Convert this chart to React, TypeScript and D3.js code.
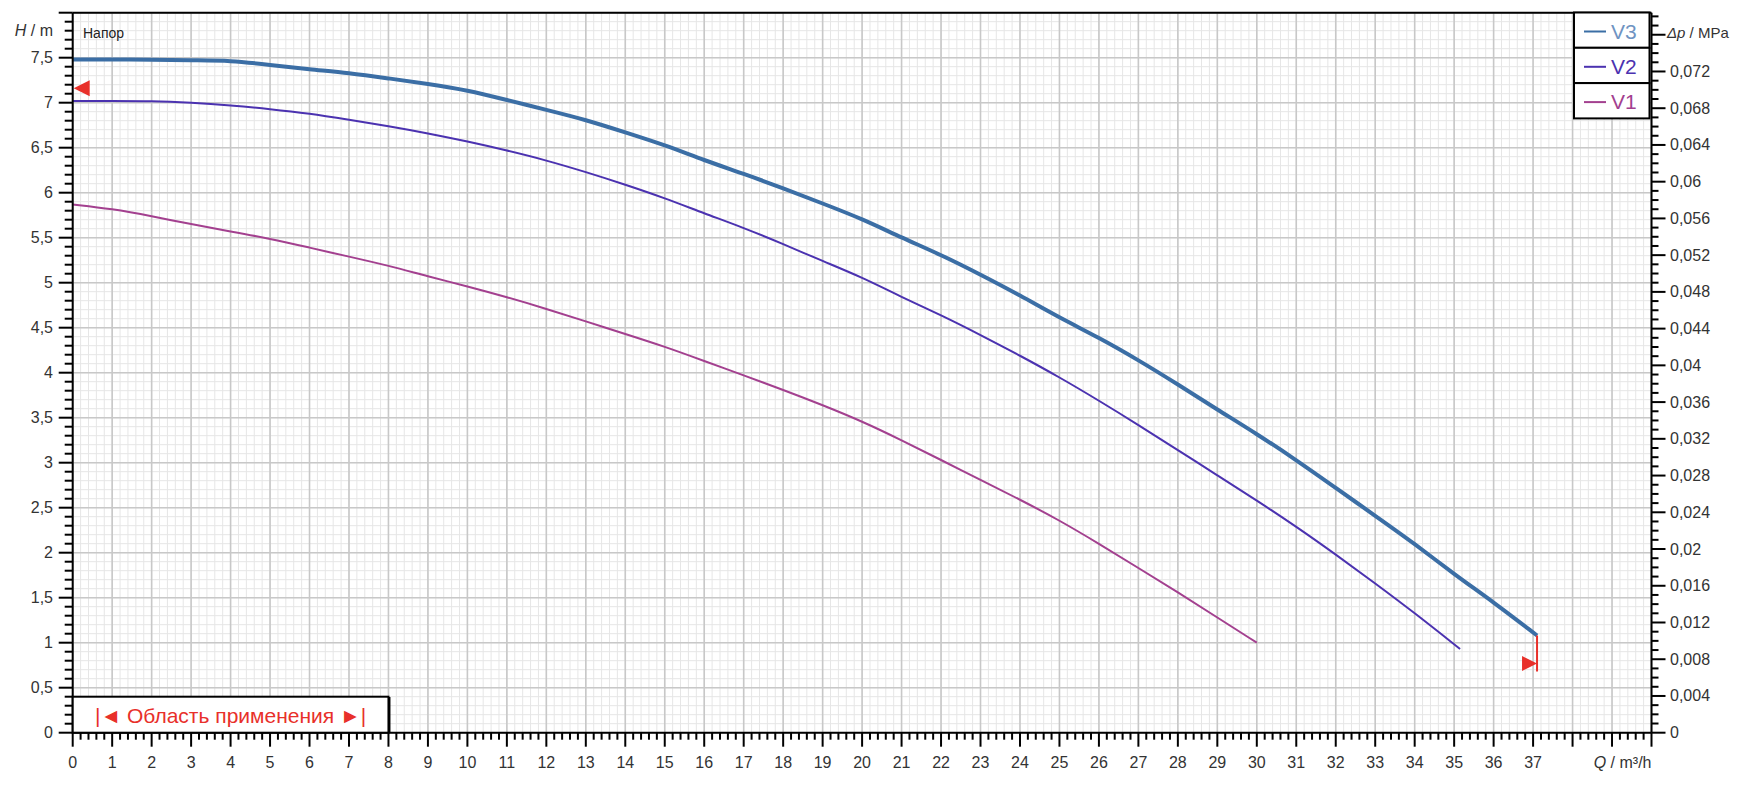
import React from "react";
import * as d3 from "d3";

// ---- data ----
const seriesNames = ["V3", "V2", "V1"];
const seriesColors = ["#3b6ea5", "#4b32b0", "#a3408f"];
const legendTextColors = ["#6f93c2", "#4b32b0", "#a3408f"];
const seriesWidths = [4, 2, 2];

const qV3 = [0, 1, 2, 3, 4, 5, 6, 7, 8, 9, 10, 11, 12, 13, 14, 15, 16, 17, 18, 19, 20, 21, 22, 23, 24, 25, 26, 27, 28, 29, 30, 31, 32, 33, 34, 35, 36, 37.1];
const hV3 = [7.48, 7.48, 7.48, 7.47, 7.47, 7.42, 7.37, 7.33, 7.27, 7.21, 7.14, 7.03, 6.92, 6.81, 6.67, 6.53, 6.36, 6.21, 6.05, 5.88, 5.71, 5.5, 5.31, 5.09, 4.86, 4.61, 4.39, 4.14, 3.87, 3.59, 3.32, 3.03, 2.72, 2.41, 2.1, 1.76, 1.45, 1.08];

const qV2 = [0, 1, 2, 3, 4, 5, 6, 7, 8, 9, 10, 11, 12, 13, 14, 15, 16, 17, 18, 19, 20, 21, 22, 23, 24, 25, 26, 27, 28, 29, 30, 31, 32, 33, 34, 35.15];
const hV2 = [7.02, 7.02, 7.02, 7.0, 6.97, 6.93, 6.88, 6.81, 6.74, 6.66, 6.57, 6.47, 6.36, 6.23, 6.09, 5.94, 5.77, 5.61, 5.43, 5.24, 5.06, 4.84, 4.64, 4.42, 4.19, 3.95, 3.69, 3.42, 3.14, 2.86, 2.58, 2.29, 1.98, 1.66, 1.33, 0.93];

const qV1 = [0, 1, 2, 3, 4, 5, 6, 7, 8, 9, 10, 11, 12, 13, 14, 15, 16, 17, 18, 19, 20, 21, 22, 23, 24, 25, 26, 27, 28, 29, 30];
const hV1 = [5.87, 5.82, 5.74, 5.65, 5.57, 5.49, 5.39, 5.29, 5.19, 5.07, 4.96, 4.84, 4.71, 4.57, 4.43, 4.29, 4.13, 3.97, 3.81, 3.64, 3.46, 3.25, 3.03, 2.81, 2.59, 2.36, 2.1, 1.83, 1.56, 1.28, 1.0];

const qTickLabels = d3.range(0, 38); // 0..37
const hTickValues = d3.range(0, 16).map((i) => i * 0.5); // 0..7.5
const pTickValues = d3.range(0, 19).map((i) => i * 0.004); // 0..0.072

const leftMarkerH = 7.16;
const rightMarker = { q: 37.1, hTop: 1.08, hBottom: 0.68, hArrow: 0.77 };
const rangeStartQ = 0;
const rangeEndQ = 8;

const hMax = 8;
const qMax = 40;
const pMax = 0.0784;

const FONT = "'Liberation Sans', Arial, Helvetica, sans-serif";

const fmt = (v: number) => String(Math.round(v * 1000) / 1000).replace(".", ",");

export default function App() {
  const W = 1762;
  const H = 788;
  const left = 72.7;
  const right = 1651.5;
  const top = 12.7;
  const bottom = 732.7;

  const x = d3.scaleLinear().domain([0, qMax]).range([left, right]);
  const y = d3.scaleLinear().domain([0, hMax]).range([bottom, top]);
  const yp = d3.scaleLinear().domain([0, pMax]).range([bottom, top]);

  const line = d3
    .line<[number, number]>()
    .x((d) => x(d[0]))
    .y((d) => y(d[1]))
    .curve(d3.curveBasis);

  const series = [
    qV3.map((q, i) => [q, hV3[i]] as [number, number]),
    qV2.map((q, i) => [q, hV2[i]] as [number, number]),
    qV1.map((q, i) => [q, hV1[i]] as [number, number]),
  ];

  const minorX = d3.range(0, qMax * 5 + 1).map((i) => i / 5);
  const minorY = d3.range(0, hMax * 10 + 1).map((i) => i / 10);
  const majorX = d3.range(0, qMax + 1);
  const majorY = d3.range(0, hMax * 2 + 1).map((i) => i / 2);
  const minorP = d3.range(0, 79).map((i) => i / 1000);

  const labelColor = "#333";

  return (
    <svg
      width={W}
      height={H}
      style={{ position: "fixed", left: 0, top: 0, background: "#fff" }}
      fontFamily={FONT}
    >
      <rect x={0} y={0} width={W} height={H} fill="#fff" />
      {/* minor grid */}
      <g stroke="#e6e6e6" strokeWidth={1}>
        {minorX.map((q) => (
          <line key={"mx" + q} x1={x(q)} x2={x(q)} y1={top} y2={bottom} />
        ))}
        {minorY.map((h) => (
          <line key={"my" + h} x1={left} x2={right} y1={y(h)} y2={y(h)} />
        ))}
      </g>
      {/* major grid */}
      <g stroke="#c8c8c8" strokeWidth={1.6}>
        {majorX.map((q) => (
          <line key={"Mx" + q} x1={x(q)} x2={x(q)} y1={top} y2={bottom} />
        ))}
        {majorY.map((h) => (
          <line key={"My" + h} x1={left} x2={right} y1={y(h)} y2={y(h)} />
        ))}
      </g>

      {/* curves */}
      {series.map((s, i) => (
        <path
          key={seriesNames[i]}
          d={line(s) || ""}
          fill="none"
          stroke={seriesColors[i]}
          strokeWidth={seriesWidths[i]}
          strokeLinejoin="round"
        />
      ))}

      {/* frame */}
      <g stroke="#000" strokeWidth={2} fill="none">
        <line x1={left} x2={right} y1={top} y2={top} />
        <line x1={left} x2={left} y1={top} y2={bottom} />
        <line x1={left} x2={right} y1={bottom} y2={bottom} />
        <line x1={right} x2={right} y1={top} y2={bottom} />
      </g>

      {/* left axis ticks */}
      <g stroke="#000" strokeWidth={2}>
        {minorY.map((h) => {
          const major = Math.abs(h * 2 - Math.round(h * 2)) < 1e-6;
          return <line key={"lt" + h} x1={left - (major ? 14 : 8)} x2={left} y1={y(h)} y2={y(h)} />;
        })}
      </g>
      <g fill={labelColor} fontSize={16} textAnchor="end">
        {hTickValues.map((h) => (
          <text key={"ll" + h} x={53} y={y(h)} dominantBaseline="central">
            {fmt(h)}
          </text>
        ))}
        <text x={53} y={30} dominantBaseline="central">
          <tspan fontStyle="italic">H</tspan> / m
        </text>
      </g>
      <text x={83} y={33} fontSize={14} fill="#222" dominantBaseline="central">
        Напор
      </text>

      {/* bottom axis ticks */}
      <g stroke="#000" strokeWidth={2}>
        {minorX.map((q) => {
          const major = Math.abs(q - Math.round(q)) < 1e-6;
          return <line key={"bt" + q} x1={x(q)} x2={x(q)} y1={bottom} y2={bottom + (major ? 14 : 7)} />;
        })}
      </g>
      <g fill={labelColor} fontSize={16} textAnchor="middle">
        {qTickLabels.map((q) => (
          <text key={"bl" + q} x={x(q)} y={762} dominantBaseline="central">
            {q}
          </text>
        ))}
      </g>
      <text x={right} y={762} fontSize={16} fill={labelColor} textAnchor="end" dominantBaseline="central">
        <tspan fontStyle="italic">Q</tspan> / m³/h
      </text>

      {/* right axis ticks */}
      <g stroke="#000" strokeWidth={2}>
        {minorP.map((p, i) => (
          <line key={"rt" + i} x1={right} x2={right + (i % 4 === 0 ? 14 : 7)} y1={yp(p)} y2={yp(p)} />
        ))}
      </g>
      <g fill={labelColor} fontSize={16} textAnchor="start">
        {pTickValues.map((p, i) => (
          <text key={"rl" + i} x={1670} y={yp(p)} dominantBaseline="central">
            {fmt(p)}
          </text>
        ))}
        <text x={1667} y={32} fontSize={15} dominantBaseline="central">
          <tspan fontStyle="italic">Δp</tspan> / MPa
        </text>
      </g>

      {/* legend */}
      {seriesNames.map((n, i) => {
        const y0 = 12.5 + i * 35.3;
        return (
          <g key={"lg" + n}>
            <rect x={1574} y={y0} width={75.5} height={35.3} fill="#fff" stroke="#000" strokeWidth={2} />
            <line x1={1584} x2={1606} y1={y0 + 19} y2={y0 + 19} stroke={seriesColors[i]} strokeWidth={2} />
            <text x={1611} y={y0 + 18.5} fontSize={21} fill={legendTextColors[i]} dominantBaseline="central">
              {n}
            </text>
          </g>
        );
      })}

      {/* application range box */}
      <rect
        x={x(rangeStartQ)}
        y={696.7}
        width={x(rangeEndQ) - x(rangeStartQ)}
        height={bottom - 696.7}
        fill="#fff"
        stroke="#000"
        strokeWidth={2}
      />
      <line x1={x(rangeEndQ) + 1} x2={x(rangeEndQ) + 1} y1={697} y2={bottom} stroke="#000" strokeWidth={2} />
      <text
        x={(x(rangeStartQ) + x(rangeEndQ)) / 2}
        y={715}
        fontSize={21}
        fill="#e8302a"
        textAnchor="middle"
        dominantBaseline="central"
      >
        |◄ Область применения ►|
      </text>

      {/* markers */}
      <path
        d={`M${left + 1},${y(leftMarkerH)} L${left + 17},${y(leftMarkerH) - 8} L${left + 17},${y(leftMarkerH) + 8} Z`}
        fill="#e8302a"
      />
      <line
        x1={x(rightMarker.q)}
        x2={x(rightMarker.q)}
        y1={y(rightMarker.hTop)}
        y2={y(rightMarker.hBottom)}
        stroke="#e8302a"
        strokeWidth={2}
      />
      <path
        d={`M${x(rightMarker.q)},${y(rightMarker.hArrow)} L${x(rightMarker.q) - 15},${y(rightMarker.hArrow) - 7.5} L${x(rightMarker.q) - 15},${y(rightMarker.hArrow) + 7.5} Z`}
        fill="#e8302a"
      />
    </svg>
  );
}
